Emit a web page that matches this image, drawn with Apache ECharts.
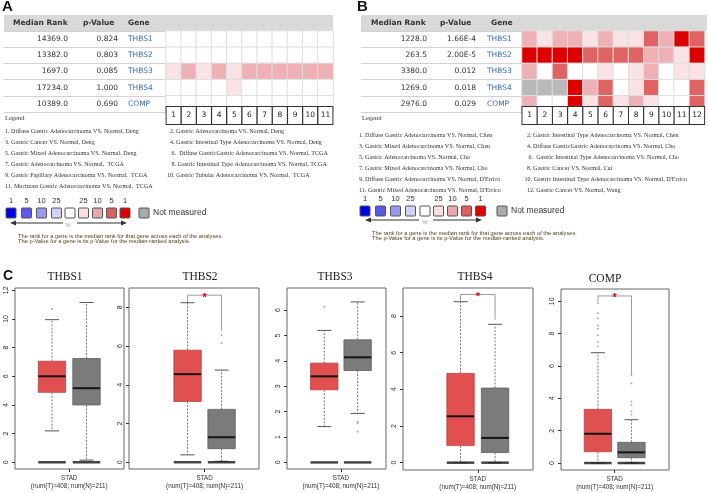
<!DOCTYPE html>
<html><head><meta charset="utf-8">
<script src="https://cdn.jsdelivr.net/npm/echarts/dist/echarts.min.js"></script>
<style>html,body{margin:0;padding:0;background:#fff}#c{width:708px;height:493px}</style>
</head><body><div id="c"></div>
<script>
// ---------- DATA ----------
const genes = ['THBS1','THBS2','THBS3','THBS4','COMP'];
const colsA = ['1','2','3','4','5','6','7','8','9','10','11'];
const colsB = ['1','2','3','4','5','6','7','8','9','10','11','12'];
const rankA = ['14369.0','13382.0','1697.0','17234.0','10389.0'];
const pValA = ['0.824','0.803','0.085','1.000','0.690'];
const rankB = ['1228.0','263.5','3380.0','1269.0','2976.0'];
const pValB = ['1.66E-4','2.00E-5','0.012','0.018','0.029'];
// level: -1 not measured, 0 none, 1 = top 25%, 2 = top 10%, 3 = top 5%, 4 = top 1%
const levelsA = [
  [0,0,0,0,0,0,0,0,0,0,0],
  [0,0,0,0,0,0,0,0,0,0,0],
  [1,2,1,2,1,2,2,2,2,2,2],
  [0,0,0,0,1,0,0,0,0,0,0],
  [0,0,0,0,0,0,0,0,0,0,0]
];
const levelsB = [
  [2,1,2,2,1,2,1,1,3,2,4,3],
  [4,4,4,4,3,3,3,3,2,2,1,4],
  [2,0,3,0,0,1,0,1,2,0,1,1],
  [-1,-1,-1,4,2,3,0,1,3,0,0,3],
  [2,0,0,4,1,3,1,2,1,0,0,3]
];
const legendA = [
  '1. Diffuse Gastric Adenocarcinoma VS. Normal, Deng',
  '2. Gastric Adenocarcinoma VS. Normal, Deng',
  '3. Gastric Cancer VS. Normal, Deng',
  '4. Gastric Intestinal Type Adenocarcinoma VS. Normal, Deng',
  '5. Gastric Mixed Adenocarcinoma VS. Normal, Deng',
  ' 6.  Diffuse GastricGastric Adenocarcinoma VS. Normal, TCGA',
  '7. Gastric Adenocarcinoma VS. Normal,  TCGA',
  ' 8. Gastric Intestinal Type Adenocarcinoma VS. Normal, TCGA',
  '9. Gastric Papillary Adenocarcinoma VS. Normal,  TCGA',
  '10. Gastric Tubular Adenocarcinoma VS. Normal,  TCGA',
  '11. Mucinous Gastric Adenocarcinoma VS. Normal,  TCGA'
];
const legendB = [
  '1. Diffuse Gastric Adenocarcinoma VS. Normal, Chen',
  '2. Gastric Intestinal Type Adenocarcinoma VS. Normal, Chen',
  '3. Gastric Mixed Adenocarcinoma VS. Normal, Chen',
  '4. Diffuse GastricGastric Adenocarcinoma VS. Normal, Cho',
  '5. Gastric Adenocarcinoma VS. Normal, Cho',
  ' 6.  Gastric Intestinal Type Adenocarcinoma VS. Normal, Cho',
  '7. Gastric Mixed Adenocarcinoma VS. Normal, Cho',
  '8. Gastric Cancer VS. Normal, Cui',
  "9. Diffuse Gastric Adenocarcinoma VS. Normal, D'Errico",
  "10. Gastric Intestinal Type Adenocarcinoma VS. Normal, D'Errico",
  "11. Gastric Mixed Adenocarcinoma VS. Normal, D'Errico",
  '12. Gastric Cancer VS. Normal, Wang'
];
const scaleLabels = ['1','5','10','25','','25','10','5','1'];
const noteLines = [
  'The rank for a gene is the median rank for that gene across each of the analyses.',
  'The p-Value for a gene is its p-Value for the median-ranked analysis.'
];
// box plots: [lower whisker, Q1, median, Q3, upper whisker]
const boxGenes = ['THBS1','THBS2','THBS3','THBS4','COMP'];
const tumorStats = [
  [2.19,4.88,6.00,7.05,9.95],
  [0.38,3.14,4.55,5.79,8.24],
  [1.41,2.86,3.39,3.91,5.20],
  [0.00,0.93,2.53,4.87,8.78],
  [0.00,0.70,1.81,3.32,6.82]
];
const normalStats = [
  [0.15,4.00,5.17,7.24,11.15],
  [0.05,0.70,1.29,2.73,4.76],
  [1.93,3.62,4.14,4.83,6.32],
  [0.00,0.55,1.35,4.07,7.55],
  [0.00,0.33,0.66,1.28,2.68]
];
const tumorOutliers = [[10.7],[],[6.13],[],[9.88,9.26,8.95,8.5,8.3,7.9,7.5,7.2]];
const normalOutliers = [[],[6.56,6.16],[1.6,1.54,1.21],[],[5.44,4.93,3.8,3.57,3.2,3.0]];
const yTicks = [[0,2,4,6,8,10,12],[0,2,4,6,8],[0,1,2,3,4,5,6],[0,2,4,6,8],[0,2,4,6,8,10]];
// significance brackets: [left end, bracket level, right end] or null
const brackets = [null,[8.27,8.63,6.79],null,[8.78,9.18,7.8],[9.98,10.33,5.44]];
const xLabel = 'STAD\n(num(T)=408; num(N)=211)';

// ---------- LAYOUT ----------
const frames = [
  {l:15, r:124, t:288, b:469, x:[-0.072,3.087], y:[-0.47,12.16]},
  {l:129,r:259, t:288, b:469, x:[-0.72,3.10],  y:[-0.35,9.0]},
  {l:287,r:386, t:288, b:469, x:[-0.117,2.85], y:[-0.26,6.87]},
  {l:403,r:533, t:288, b:470, x:[-0.667,3.10], y:[-0.40,9.53]},
  {l:561,r:669, t:289, b:470, x:[-0.10,3.12],  y:[-0.43,10.76]}
];
const titleX = [65,200,335,475,605];
const RED = '#e05050', GRAY = '#7b7b7b';
const heatColors = [
  {value:-1,color:'#b9b9b9'},{value:0,color:'#ffffff'},{value:1,color:'#f9e3e5'},
  {value:2,color:'#eeb1b6'},{value:3,color:'#e06363'},{value:4,color:'#dd0000'}
];
const scaleColors = ['#0000e6','#5a5ae8','#9999f0','#d2d2f6','#ffffff','#f8e0e0','#eba9ad','#df5f5f','#dd0000'];

function txt(x,y,text,font,fill,align,va){
  align = align||'left'; va = va||'middle';
  return {type:'text', x:x, y:y, silent:true, z:50,
    style:{text:text, font:font, fill:fill, align:align, verticalAlign:va, textAlign:align, textVerticalAlign:va}};
}
const graphic = [];
// panel letters
graphic.push(txt(2,7,'A','bold 15px "Liberation Sans"','#111'));
graphic.push(txt(357,7,'B','bold 15px "Liberation Sans"','#111'));
graphic.push(txt(3,276,'C','bold 14px "Liberation Sans"','#111'));
// header bands
const hdrFont = 'bold 7.5px "DejaVu Sans"';
function header(x0,w,xs){
  graphic.push({type:'rect', shape:{x:x0,y:15,width:w,height:16}, style:{fill:'#d9d9d9'}, silent:true, z:1});
  graphic.push(txt(xs[0],23,'Median Rank',hdrFont,'#333'));
  graphic.push(txt(xs[1],23,'p-Value',hdrFont,'#333'));
  graphic.push(txt(xs[2],23,'Gene',hdrFont,'#333'));
}
header(4,329,[13,83,128]);
header(361,346,[371,440,491]);
graphic.push(txt(5,118,'Legend','6.5px "Liberation Serif"','#333'));
graphic.push(txt(362,118,'Legend','6.5px "Liberation Serif"','#333'));
// study legends
const legFont = '6.1px "Liberation Serif"';
legendA.forEach((s,i)=>{
  const col = i%2, row = Math.floor(i/2);
  graphic.push(txt(col? (i===9?167:170):5, 131.5+row*11, s, legFont, '#333'));
});
legendB.forEach((s,i)=>{
  const col = i%2, row = Math.floor(i/2);
  graphic.push(txt(col? (i===9?524.5:527):359, 135+row*11, s, legFont, '#333'));
});
// colour scale legends
function scale(x0, yNum, ySq, yArr, xs, grayX, arrows, notes){
  scaleColors.forEach((c,i)=>{
    graphic.push({type:'rect', silent:true, z:40, shape:{x:xs[i], y:ySq, width:10, height:10, r:1},
      style:{fill:c, stroke:'#555', lineWidth:1}});
    if (scaleLabels[i]) graphic.push(txt(xs[i]+5, yNum, scaleLabels[i], '7.5px "Liberation Sans"', '#333', 'center'));
  });
  graphic.push({type:'rect', silent:true, z:40, shape:{x:grayX, y:ySq, width:10, height:10, r:1}, style:{fill:'#aaaaaa', stroke:'#555', lineWidth:1}});
  graphic.push(txt(grayX+14, ySq+5, 'Not measured', '8.5px "Liberation Sans"', '#333'));
  const [a1,a2,pc,b1,b2] = arrows;
  graphic.push({type:'line', silent:true, z:40, shape:{x1:a1+4,y1:yArr,x2:a2,y2:yArr}, style:{stroke:'#333',lineWidth:1}});
  graphic.push({type:'polygon', silent:true, z:40, shape:{points:[[a1,yArr],[a1+6,yArr-2.5],[a1+6,yArr+2.5]]}, style:{fill:'#333'}});
  graphic.push({type:'line', silent:true, z:40, shape:{x1:b1,y1:yArr,x2:b2-4,y2:yArr}, style:{stroke:'#333',lineWidth:1}});
  graphic.push({type:'polygon', silent:true, z:40, shape:{points:[[b2,yArr],[b2-6,yArr-2.5],[b2-6,yArr+2.5]]}, style:{fill:'#333'}});
  graphic.push(txt(pc, yArr+2, '%', '6px "Liberation Sans"', '#999', 'center'));
  noteLines.forEach((s,i)=>graphic.push(txt(notes[0], notes[1]+i*5, s, '5.7px "Liberation Sans"', '#4e4520')));
}
scale(0, 201, 208, 223, [6,21.5,36.5,51.5,65,78.5,92.5,106.5,120], 139, [10,63,68,77,127], [18,236]);
scale(354, 199, 206, 220, [360,375.5,390.5,405.5,420,433.5,447.5,461.5,475.5], 497, [365,419,425,433,482], [372,233]);
// box plot titles
boxGenes.forEach((g,i)=>graphic.push(txt(titleX[i], i===4?279:277, g, '11.5px "Liberation Serif"', '#222', 'center')));

// ---------- OPTION ----------
const grid = [], xAxis = [], yAxis = [], series = [];
function heatPanel(gi, left, width, cols, ranks, pvals, levels, tickLen, geneMargin, rankOff, pOff){
  grid.push({left:left, top:31, width:width, height:81});
  const cellW = width/cols.length;
  xAxis.push({type:'category', gridIndex:gi, data:cols, position:'bottom', z:10,
    axisLine:{show:false}, axisTick:{show:false}, splitLine:{show:false},
    axisLabel:{interval:0, margin:-5, fontSize:7.5, fontFamily:'DejaVu Sans', color:'#222',
      width:cellW-1.2, height:17, lineHeight:17, align:'center', backgroundColor:'#fff', borderColor:'#333', borderWidth:1}});
  const yi = yAxis.length;
  yAxis.push({type:'category', gridIndex:gi, data:genes, inverse:true, position:'left',
    axisLine:{show:false}, axisTick:{show:true, length:tickLen, lineStyle:{color:'#d2d2d2'}},
    axisLabel:{interval:0, align:'left', margin:geneMargin, color:'#3b6db3', fontSize:7.5, fontFamily:'DejaVu Sans'}});
  yAxis.push({type:'category', gridIndex:gi, data:ranks, inverse:true, position:'left', offset:rankOff,
    axisLine:{show:false}, axisTick:{show:false}, axisLabel:{interval:0, margin:0, color:'#333', fontSize:7.5, fontFamily:'DejaVu Sans'}});
  yAxis.push({type:'category', gridIndex:gi, data:pvals, inverse:true, position:'left', offset:pOff,
    axisLine:{show:false}, axisTick:{show:false}, axisLabel:{interval:0, margin:0, color:'#333', fontSize:7.5, fontFamily:'DejaVu Sans'}});
  const data = [];
  levels.forEach((row,r)=>row.forEach((v,c)=>data.push([c,r,v])));
  series.push({type:'heatmap', xAxisIndex:gi, yAxisIndex:yi, data:data, z:2,
    itemStyle:{borderColor:'#dedede', borderWidth:1}, emphasis:{disabled:true}});
}
heatPanel(0, 166, 167, colsA, rankA, pValA, levelsA, 162, 38, 98, 48);
heatPanel(1, 522, 185, colsB, rankB, pValB, levelsB, 161, 35, 95, 46);

function boxRenderer(fill, stroke){
  return function(params, api){
    const x = api.value(0);
    const lo = api.coord([x, api.value(1)]), q1 = api.coord([x, api.value(2)]),
          md = api.coord([x, api.value(3)]), q3 = api.coord([x, api.value(4)]), hi = api.coord([x, api.value(5)]);
    const cx = lo[0], hw = 13.7, cw = 7;
    const dash = {stroke:'#555', lineWidth:0.8, lineDash:[2,1.5]};
    return {type:'group', children:[
      {type:'line', shape:{x1:cx,y1:q3[1],x2:cx,y2:hi[1]}, style:dash},
      {type:'line', shape:{x1:cx,y1:q1[1],x2:cx,y2:lo[1]}, style:dash},
      {type:'line', shape:{x1:cx-cw,y1:hi[1],x2:cx+cw,y2:hi[1]}, style:{stroke:'#555',lineWidth:1}},
      {type:'line', shape:{x1:cx-cw,y1:lo[1],x2:cx+cw,y2:lo[1]}, style:{stroke:'#555',lineWidth:1}},
      {type:'rect', shape:{x:cx-hw,y:q3[1],width:2*hw,height:q1[1]-q3[1]}, style:{fill:fill, stroke:stroke, lineWidth:0.8}},
      {type:'line', shape:{x1:cx-hw,y1:md[1],x2:cx+hw,y2:md[1]}, style:{stroke:'#151515',lineWidth:2}}
    ]};
  };
}
function bracketRenderer(params, api){
  const x1 = api.value(0), x2 = api.value(1);
  const a = api.coord([x1, api.value(2)]), b = api.coord([x1, api.value(3)]),
        c = api.coord([x2, api.value(3)]), d = api.coord([x2, api.value(4)]);
  return {type:'group', children:[
    {type:'polyline', shape:{points:[a,b,c,d]}, style:{stroke:'#9a9a9a', lineWidth:1, fill:null}},
    {type:'text', x:(b[0]+c[0])/2, y:b[1]+2.5, style:{text:'*', font:'bold 11px "Liberation Sans"', fill:'#e00000',
      align:'center', verticalAlign:'middle', textAlign:'center', textVerticalAlign:'middle'}}
  ]};
}
frames.forEach((f,i)=>{
  const gi = grid.length;
  grid.push({left:f.l, top:f.t, width:f.r-f.l, height:f.b-f.t, show:true, borderColor:'#666', borderWidth:1, backgroundColor:'transparent'});
  const xi = xAxis.length, yi = yAxis.length;
  xAxis.push({type:'value', gridIndex:gi, min:f.x[0], max:f.x[1], splitLine:{show:false}, axisLine:{show:false, onZero:false},
    axisTick:{show:true, length:3, lineStyle:{color:'#333'}, customValues:[1.5]},
    axisLabel:{customValues:[1.5], formatter:()=>xLabel, fontSize:6.3, lineHeight:8, margin:5, color:'#333', fontFamily:'Liberation Sans'}});
  yAxis.push({type:'value', gridIndex:gi, min:f.y[0], max:f.y[1], splitLine:{show:false}, axisLine:{show:false, onZero:false},
    axisTick:{show:true, length:3, lineStyle:{color:'#333'}, customValues:yTicks[i]},
    axisLabel:{customValues:yTicks[i], rotate:90, fontSize:7, margin:5, color:'#333', fontFamily:'Liberation Sans'}});
  const common = {xAxisIndex:xi, yAxisIndex:yi, silent:true};
  series.push(Object.assign({type:'custom', renderItem:boxRenderer(RED,'#b84444'), data:[[1].concat(tumorStats[i])], encode:{x:0,y:[1,2,3,4,5]}, z:3}, common));
  series.push(Object.assign({type:'custom', renderItem:boxRenderer(GRAY,'#5e5e5e'), data:[[2].concat(normalStats[i])], encode:{x:0,y:[1,2,3,4,5]}, z:3}, common));
  series.push(Object.assign({type:'scatter', symbol:'circle', symbolSize:2, itemStyle:{color:'#9a9a9a'},
    data: tumorOutliers[i].map(v=>[1,v]).concat(normalOutliers[i].map(v=>[2,v])), z:4}, common));
  series.push(Object.assign({type:'scatter', symbol:'rect', symbolSize:[27.5,2.5], itemStyle:{color:'#151515'},
    data:[[1,0],[2,0]], z:5}, common));
  if (brackets[i]) {
    series.push(Object.assign({type:'custom', renderItem:bracketRenderer, data:[[1,2].concat(brackets[i])], encode:{x:[0,1],y:[2,3,4]}, z:6}, common));
  }
});

const chart = echarts.init(document.getElementById('c'), null, {renderer:'canvas'});
chart.setOption({
  animation:false, backgroundColor:'#fff',
  grid:grid, xAxis:xAxis, yAxis:yAxis, series:series, graphic:graphic,
  visualMap:{type:'piecewise', show:false, dimension:2, seriesIndex:[0,1], pieces:heatColors}
});
</script></body></html>
